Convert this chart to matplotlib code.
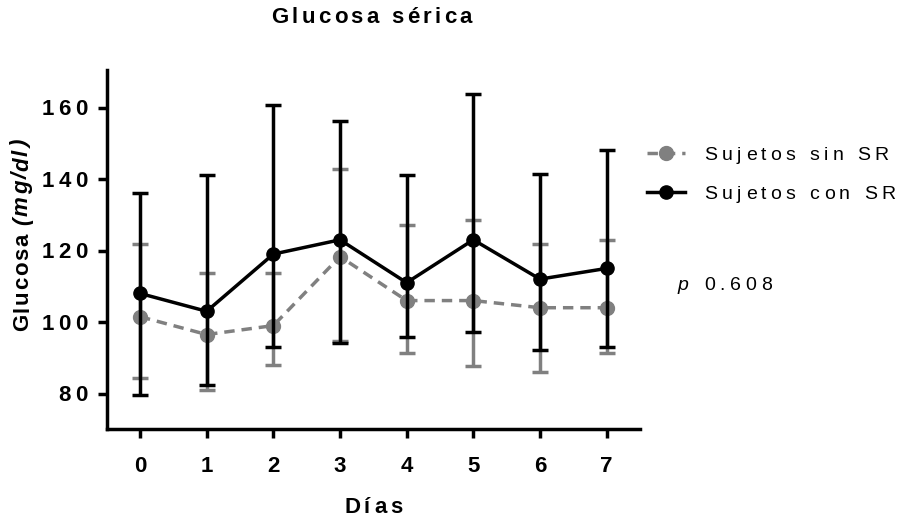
import numpy as np
import matplotlib
matplotlib.use("Agg")
import matplotlib.pyplot as plt
from matplotlib.text import Text
from matplotlib.transforms import Bbox

# Glucosa sérica por día: media y extremos de la barra de error
dias = [0, 1, 2, 3, 4, 5, 6, 7]

sin_sr_media = [101.5, 96.5, 99.0, 118.3, 106.0, 106.0, 104.0, 104.0]
sin_sr_sup = [121.9, 113.8, 113.8, 142.7, 127.0, 128.4, 121.9, 123.0]
sin_sr_inf = [84.4, 81.0, 88.1, 94.7, 91.4, 87.8, 86.1, 91.4]

con_sr_media = [108.0, 103.0, 119.0, 123.0, 111.0, 123.0, 112.0, 115.0]
con_sr_sup = [136.2, 141.0, 160.6, 156.1, 141.0, 163.8, 141.4, 148.0]
con_sr_inf = [79.7, 82.3, 92.9, 94.0, 95.9, 97.3, 92.3, 92.9]

y_ticks = [80, 100, 120, 140, 160]
p_valor = "0.608"


class TextoEspaciado(Text):
    """Text drawn glyph by glyph with extra letter spacing (in points)."""

    def _disposicion(self, renderer):
        base = self.get_fontproperties()
        partes = self._partes or [(self.get_text(), {})]
        glifos = []
        for trozo, estilo in partes:
            fp = base.copy()
            if "style" in estilo:
                fp.set_style(estilo["style"])
            ref = renderer.get_text_width_height_descent("II", fp, ismath=False)[0]
            for ch in trozo:
                w = renderer.get_text_width_height_descent("I" + ch + "I", fp, ismath=False)[0] - ref
                glifos.append((ch, fp, w))
        hueco = renderer.points_to_pixels(self._tracking)
        total = sum(g[2] for g in glifos) + hueco * max(len(glifos) - 1, 0)
        cap = renderer.get_text_width_height_descent("H", base, ismath=False)[1]
        desc = renderer.get_text_width_height_descent("lpg", base, ismath=False)[2]
        ang = np.radians(self.get_rotation())
        u = np.array([np.cos(ang), np.sin(ang)])
        n = np.array([-np.sin(ang), np.cos(ang)])
        s = {"left": 0.0, "center": -total / 2, "right": -total}[self.get_horizontalalignment()]
        b = {"baseline": 0.0, "bottom": desc, "top": -cap, "center": -cap / 2,
             "center_baseline": -cap / 2}[self.get_verticalalignment()]
        ancla = np.asarray(self.get_transform().transform(self.get_unitless_position()))
        inicio = ancla + u * s + n * b
        return glifos, hueco, total, inicio, u, n, cap, desc

    def get_window_extent(self, renderer=None, dpi=None):
        if not self.get_visible() or self.get_text() == "":
            return Bbox.unit()
        if renderer is None:
            renderer = self.figure._get_renderer()
        _, _, total, p, u, n, cap, desc = self._disposicion(renderer)
        esquinas = np.array([p - n * desc, p + n * cap,
                             p + u * total - n * desc, p + u * total + n * cap])
        return Bbox.from_extents(esquinas[:, 0].min(), esquinas[:, 1].min(),
                                 esquinas[:, 0].max(), esquinas[:, 1].max())

    def draw(self, renderer):
        if not self.get_visible() or self.get_text() == "":
            return
        glifos, hueco, total, p, u, n, cap, desc = self._disposicion(renderer)
        renderer.open_group("text", self.get_gid())
        gc = renderer.new_gc()
        gc.set_foreground(self.get_color())
        gc.set_alpha(self.get_alpha())
        self._set_gc_clip(gc)
        _, alto = renderer.get_canvas_width_height()
        ang = self.get_rotation()
        for ch, fp, w in glifos:
            if ch.strip():
                y = alto - p[1] if renderer.flipy() else p[1]
                renderer.draw_text(gc, p[0], y, ch, fp, ang, ismath=False, mtext=None)
            p = p + u * (w + hueco)
        gc.restore()
        renderer.close_group("text")
        self.stale = False


def espaciar(t, tracking, partes=None):
    t.__class__ = TextoEspaciado
    t._tracking = tracking
    t._partes = partes
    return t


plt.rcParams["font.family"] = ["Liberation Sans", "DejaVu Sans"]

fig = plt.figure(figsize=(9.07, 5.23), dpi=100)
ax = fig.add_axes([0.1176, 0.1792, 0.588, 0.687])

gris = "#808080"
lw = 2.5


def barras(media, sup, inf):
    media = np.array(media)
    return [media - np.array(inf), np.array(sup) - media]


ax.errorbar(dias, sin_sr_media, yerr=barras(sin_sr_media, sin_sr_sup, sin_sr_inf),
            fmt="none", ecolor=gris, elinewidth=lw, capsize=5.5, capthick=lw, zorder=2)
ax.plot(dias, sin_sr_media, color=gris, lw=lw, linestyle=(0, (3.0, 2.0)),
        marker="o", markersize=10, label="Sujetos sin SR", zorder=3)

ax.errorbar(dias, con_sr_media, yerr=barras(con_sr_media, con_sr_sup, con_sr_inf),
            fmt="none", ecolor="black", elinewidth=lw, capsize=5.5, capthick=lw, zorder=4)
ax.plot(dias, con_sr_media, color="black", lw=lw, marker="o", markersize=9.5,
        label="Sujetos con SR", zorder=5)

ax.set_xlim(-0.5, 7.5)
ax.set_ylim(70, 170.5)
ax.set_xticks(dias)
ax.set_yticks(y_ticks)

for s in ["top", "right"]:
    ax.spines[s].set_visible(False)
for s in ["left", "bottom"]:
    ax.spines[s].set_linewidth(lw)

ax.tick_params(axis="both", width=lw, length=6.5, labelsize=16)
ax.tick_params(axis="x", pad=13.5)
ax.tick_params(axis="y", pad=7)
for lab in ax.get_xticklabels() + ax.get_yticklabels():
    lab.set_fontweight("bold")
    espaciar(lab, 3.4)

ax.set_xlabel("Días", fontsize=16, fontweight="bold")
ax.xaxis.set_label_coords(0.5, -0.1926)
espaciar(ax.xaxis.label, 2.7)

ax.set_ylabel("Glucosa (mg/dl)", fontsize=16, fontweight="bold")
ax.yaxis.set_label_coords(-0.138, 0.538)
espaciar(ax.yaxis.label, 1.15, [("Glucosa ", {}), ("(mg/dl)", {"style": "italic"})])

titulo = fig.text(0.4098, 0.9698, "Glucosa sérica", fontsize=16, fontweight="bold",
                  ha="center", va="center")
espaciar(titulo, 2.4)

leyenda = ax.legend(loc="upper left", bbox_to_anchor=(0.6942, 0.754),
                    bbox_transform=fig.transFigure, frameon=False, fontsize=14,
                    handlelength=1.95, handletextpad=1.0, labelspacing=1.1)
for t in leyenda.get_texts():
    espaciar(t, 3.1)

texto_p = fig.text(0.7475, 0.458, "p " + p_valor, fontsize=14, ha="left", va="center")
espaciar(texto_p, 3.5, [("p", {"style": "italic"}), (" " + p_valor, {})])

fig.savefig("out.png", dpi=100)
